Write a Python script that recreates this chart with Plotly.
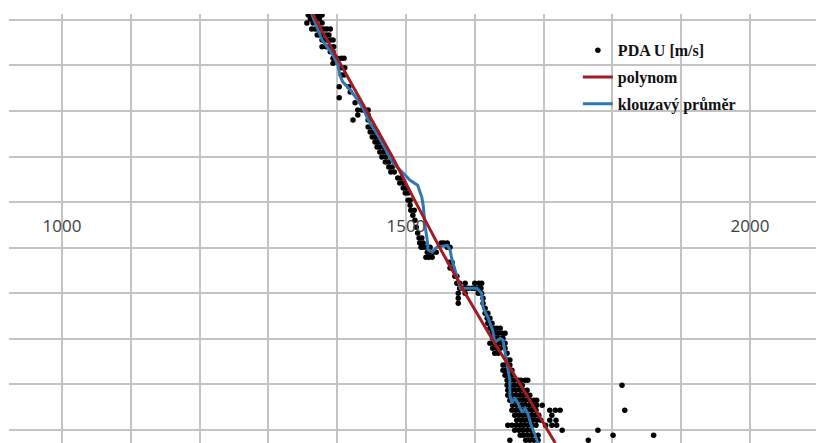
import plotly.graph_objects as go

# ---- data (x = U [m/s], y = depth level, one unit per horizontal gridline) ----
x_tick_labels = [1000, 1500, 2000]

dot_levels = [4.11, 4.02, 3.93, 3.80, 3.67, 3.56, 3.41, 3.30, 3.16, 3.05,
              2.95, 2.79, 2.53, 2.42, 2.29, 2.18, 2.02, 1.91, 1.80, 1.65,
              1.54, 1.43, 1.32, 1.21, 1.10, 0.99, 0.88, 0.77, 0.66, 0.53,
              0.42, 0.31, 0.20, 0.04, -0.07, -0.18, -0.29, -0.40, -0.55, -0.68,
              -0.79, -0.90, -0.99, -1.10, -1.21, -1.32, -1.45, -1.63, -1.78, -1.89,
              -2.00, -2.11, -2.22, -2.33, -2.44, -2.55, -2.66, -2.77, -2.88, -2.99,
              -3.10, -3.21, -3.32, -3.47, -3.58, -3.69, -3.80, -3.91, -4.02, -4.13,
              -4.24, -4.35, -4.46, -4.57, -4.68, -4.79, -4.90, -5.01, -5.12, -5.23]

dot_values = [
    [1358, 1362, 1366, 1371, 1375, 1378],
    [1361, 1365, 1369, 1374],
    [1356, 1365, 1378],
    [1363, 1368, 1372, 1377, 1381, 1385, 1390],
    [1371, 1375, 1379, 1384, 1388],
    [1378, 1384, 1390, 1394],
    [1378, 1384, 1390, 1395],
    [1390, 1394],
    [1394, 1400, 1406, 1410],
    [1394],
    [1406, 1411],
    [1406, 1410],
    [1403, 1417],
    [1419],
    [1403],
    [1426],
    [1430, 1436, 1440, 1445],
    [1430, 1445],
    [1423, 1445],
    [1445, 1451],
    [1448, 1454, 1458],
    [1451, 1455, 1459],
    [1455, 1459, 1464],
    [1458, 1462, 1467],
    [1462, 1468],
    [1465, 1471],
    [1470, 1475],
    [1475, 1480],
    [1478, 1483],
    [1488, 1493],
    [1491, 1496],
    [1496, 1500],
    [1499, 1503],
    [1503, 1506],
    [1506],
    [1507, 1512],
    [1510],
    [1513],
    [1515],
    [1517],
    [1519, 1523],
    [1520, 1525, 1551, 1555, 1560],
    [1522, 1526, 1531, 1535, 1560, 1564],
    [1531, 1535, 1539, 1544],
    [1529, 1533, 1538],
    [1563, 1567],
    [1564, 1568],
    [1571, 1574],
    [1574, 1578, 1586, 1600, 1606, 1610],
    [1578, 1583, 1587, 1591, 1596, 1600, 1605, 1609],
    [1576, 1586, 1605, 1610],
    [1576, 1612],
    [1576, 1612],
    [1615],
    [1615, 1619],
    [1618, 1622],
    [1619, 1625],
    [1622, 1628, 1632, 1637],
    [1625, 1629, 1634, 1640, 1644],
    [1626, 1632, 1637, 1641],
    [1622, 1628, 1634, 1640, 1644],
    [1626, 1632, 1637, 1644],
    [1629, 1634, 1647],
    [1647, 1651],
    [1641, 1645, 1651],
    [1641, 1645, 1650, 1654],
    [1644, 1648, 1654],
    [1647, 1651, 1657, 1663, 1667, 1673, 1677],
    [1647, 1653, 1658, 1664, 1669, 1814],
    [1648, 1654, 1660, 1666, 1671, 1676],
    [1648, 1654, 1660, 1666, 1671, 1677, 1680],
    [1651, 1657, 1663, 1669, 1674, 1680, 1686, 1690],
    [1655, 1661, 1667, 1673, 1679, 1684, 1690, 1698],
    [1654, 1660, 1666, 1671, 1677, 1683, 1689, 1709, 1717, 1724, 1818],
    [1658, 1664, 1670, 1676, 1682, 1687, 1693, 1712],
    [1661, 1667, 1673, 1679, 1684, 1690, 1696, 1709, 1718],
    [1648, 1654, 1660, 1666, 1671, 1677, 1683, 1689, 1703, 1712, 1719],
    [1658, 1664, 1670, 1676, 1682, 1727, 1779],
    [1666, 1671, 1677, 1683, 1692, 1801, 1860],
    [1651, 1674, 1680, 1686, 1692, 1765],
]

poly_y = [4.13, 4.0, 3.0, 2.0, 1.0, 0.0, -1.0, -2.0, -3.0, -4.0, -5.0, -5.29]
poly_x = [1365, 1369, 1406, 1443, 1480, 1514, 1549, 1586, 1625, 1666, 1705, 1717]

avg_y = [4.13, 3.89, 3.56, 3.23, 3.01, 2.79, 2.64, 2.46, 2.24, 2.02,
         1.80, 1.47, 1.14, 0.86, 0.59, 0.48, 0.37, 0.11, -0.07, -0.55,
         -0.84, -1.05, -1.10, -0.99, -0.95, -1.05, -1.27, -1.49, -1.78, -1.89,
         -1.89, -2.00, -2.31, -2.53, -2.81, -3.08, -2.99, -3.03, -3.30, -3.63,
         -3.91, -4.24, -4.42, -4.29, -4.42, -4.62, -4.53, -4.64, -4.79, -4.95,
         -5.08, -5.30]
avg_x = [1363, 1369, 1378, 1394, 1401, 1404, 1408, 1419, 1430, 1439,
         1445, 1459, 1471, 1481, 1499, 1506, 1517, 1523, 1525, 1528,
         1531, 1532, 1538, 1545, 1560, 1564, 1567, 1571, 1576, 1579,
         1603, 1610, 1612, 1619, 1626, 1629, 1637, 1641, 1644, 1648,
         1651, 1651, 1654, 1658, 1663, 1669, 1673, 1677, 1680, 1683,
         1687, 1692]

dot_x = [v for row in dot_values for v in row]
dot_y = [lvl for lvl, row in zip(dot_levels, dot_values) for _ in row]

grid_x = list(range(900, 2200, 100))
grid_text = [str(v) if v in x_tick_labels else "" for v in grid_x]

fig = go.Figure()
fig.add_trace(go.Scatter(
    x=dot_x, y=dot_y, mode="markers", name="PDA U [m/s]",
    marker=dict(color="black", size=5.5), legendrank=1, legendgroup="a"))
fig.add_trace(go.Scatter(
    x=avg_x, y=avg_y, mode="lines", name="klouzavý průměr",
    line=dict(color="#2e78b4", width=3), legendrank=3, legendgroup="c"))
fig.add_trace(go.Scatter(
    x=poly_x, y=poly_y, mode="lines", name="polynom",
    line=dict(color="#a11c22", width=3), legendrank=2, legendgroup="b"))

# the page body adds an 8px offset, so the figure is 8px smaller and margins compensate
fig.update_layout(
    width=816, height=435,
    margin=dict(l=1, r=0, t=6, b=0),
    paper_bgcolor="white", plot_bgcolor="white",
    showlegend=True,
    legend=dict(
        x=0.698, y=0.955, xanchor="left", yanchor="top",
        bgcolor="rgba(0,0,0,0)", tracegroupgap=3,
        traceorder="grouped",
        font=dict(family="Liberation Serif", size=16, color="#111111", weight="bold"),
    ),
    xaxis=dict(
        range=[923, 2107.6], tickmode="array", tickvals=grid_x, ticktext=grid_text,
        showgrid=True, gridcolor="#c4c4c4", gridwidth=1.5,
        zeroline=False, showline=False, ticks="",
        anchor="free", position=0.5616, ticklabelstandoff=12,
        tickfont=dict(family="Open Sans", size=17, color="#404040"),
    ),
    yaxis=dict(
        range=[-5.29, 4.13], dtick=1, tick0=0,
        showgrid=True, gridcolor="#c4c4c4", gridwidth=1.5,
        zeroline=False, showline=False, showticklabels=False, ticks="",
    ),
)

fig.write_html("out.html")
